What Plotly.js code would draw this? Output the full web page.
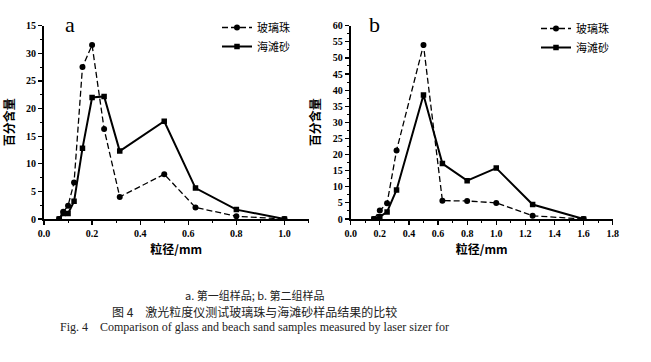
<!DOCTYPE html>
<html><head><meta charset="utf-8">
<script src="https://cdn.plot.ly/plotly-3.0.1.min.js"></script>
<style>html,body{margin:0;padding:0;background:#fff}#chart{width:651px;height:362px}</style>
</head><body><div id="chart"></div>
<script>
// Panel a
const xA = [0.063, 0.08, 0.1, 0.125, 0.16, 0.2, 0.25, 0.315, 0.5, 0.63, 0.8, 1.0];
const glassA = [0, 1.3, 2.4, 6.6, 27.5, 31.5, 16.3, 4.0, 8.1, 2.1, 0.5, 0];
const sandA  = [0, 1.0, 1.0, 3.2, 12.8, 22.0, 22.2, 12.3, 17.7, 5.6, 1.7, 0];
// Panel b
const xB = [0.16, 0.2, 0.25, 0.315, 0.5, 0.63, 0.8, 1.0, 1.25, 1.6];
const glassB = [0, 2.6, 4.9, 21.3, 54.0, 5.7, 5.6, 5.0, 1.0, 0];
const sandB  = [0, 0.7, 2.2, 9.0, 38.5, 17.2, 11.9, 15.8, 4.5, 0];
// Tick labels
const yTickValsA = [0, 5, 10, 15, 20, 25, 30, 35];
const yTickTextA = ['0', '5', '10', '15', '20', '25', '30', '15'];
const yTickValsB = [0, 5, 10, 15, 20, 25, 30, 35, 40, 45, 50, 55, 60];
const xTickValsA = [0, 0.2, 0.4, 0.6, 0.8, 1.0];
const xTickTextA = ['0.0', '0.2', '0.4', '0.6', '0.8', '1.0'];
const xTickValsB = [0, 0.2, 0.4, 0.6, 0.8, 1.0, 1.2, 1.4, 1.6, 1.8];
const xTickTextB = ['0.0', '0.2', '0.4', '0.6', '0.8', '1.0', '1.2', '1.4', '1.6', '1.8'];
const seriesNames = ['玻璃珠', '海滩砂'];

const W = 651, H = 362;
const px = x => x / W;
const py = y => (H - y) / H;

const CJK = '"Noto Sans CJK SC", sans-serif';
const SERIF = '"Liberation Serif", "DejaVu Serif", serif';

const glassStyle = {mode: 'lines+markers', line: {color: '#000', width: 1.3, dash: '6px,3px'},
  marker: {symbol: 'circle', size: 6, color: '#000'}};
const sandStyle = {mode: 'lines+markers', line: {color: '#000', width: 2},
  marker: {symbol: 'square', size: 5.5, color: '#000'}};

const data = [
  Object.assign({x: xA, y: glassA, name: seriesNames[0], xaxis: 'x', yaxis: 'y', legend: 'legend'}, glassStyle),
  Object.assign({x: xA, y: sandA, name: seriesNames[1], xaxis: 'x', yaxis: 'y', legend: 'legend'}, sandStyle),
  Object.assign({x: xB, y: glassB, name: seriesNames[0], xaxis: 'x2', yaxis: 'y2', legend: 'legend2'}, glassStyle),
  Object.assign({x: xB, y: sandB, name: seriesNames[1], xaxis: 'x2', yaxis: 'y2', legend: 'legend2'}, sandStyle)
];

const tickFont = {family: SERIF, size: 10, color: '#000', weight: 'bold'};
const titleFont = {family: CJK, size: 12, color: '#000', weight: 'bold'};

function xAxis(dom, range, tv, tt, anchor) {
  return {domain: dom, range: range, anchor: anchor, showline: true, linecolor: '#000', linewidth: 2,
    ticks: 'outside', ticklen: 4, tickwidth: 1.2, tickcolor: '#000', showgrid: false, zeroline: false,
    tickvals: tv, ticktext: tt, tickfont: tickFont,
    minor: {ticks: 'outside', ticklen: 2, tickwidth: 1, tickcolor: '#000', dtick: 0.1, showgrid: false},
    title: {text: '粒径/mm', font: titleFont, standoff: 8}};
}
function yAxis(dom, range, tv, tt, anchor, standoff) {
  return {domain: dom, range: range, anchor: anchor, showline: true, linecolor: '#000', linewidth: 2,
    ticks: 'outside', ticklen: 4, tickwidth: 1.2, tickcolor: '#000', showgrid: false, zeroline: false,
    tickvals: tv, ticktext: tt, tickfont: tickFont,
    minor: {ticks: 'outside', ticklen: 2, tickwidth: 1, tickcolor: '#000', dtick: 2.5, showgrid: false},
    title: {text: '百分含量', font: titleFont, standoff: standoff}};
}

function note(text, x, y, font) {
  return {text: text, x: px(x), y: py(y), xref: 'paper', yref: 'paper', showarrow: false,
    xanchor: 'center', yanchor: 'middle', font: font};
}

const yDom = [py(219), py(25.7)];
const layout = {
  width: W, height: H,
  margin: {l: 0, r: 0, t: 0, b: 0},
  paper_bgcolor: '#fff', plot_bgcolor: '#fff',
  showlegend: true,
  xaxis: xAxis([px(44), px(308.5)], [0, 1.1], xTickValsA, xTickTextA, 'y'),
  yaxis: yAxis(yDom, [0, 35], yTickValsA, yTickTextA, 'x', 12),
  xaxis2: xAxis([px(350.7), px(612.7)], [0, 1.8], xTickValsB, xTickTextB, 'y2'),
  yaxis2: yAxis(yDom, [0, 60], yTickValsB, null, 'x2', 9),
  legend: {x: px(217), y: py(13), xanchor: 'left', yanchor: 'top', bgcolor: 'rgba(0,0,0,0)',
    font: {family: CJK, size: 11, color: '#000'}, tracegroupgap: 0, itemwidth: 30},
  legend2: {x: px(536), y: py(14), xanchor: 'left', yanchor: 'top', bgcolor: 'rgba(0,0,0,0)',
    font: {family: CJK, size: 11, color: '#000'}, tracegroupgap: 0, itemwidth: 30},
  annotations: [
    note('a', 70, 25, {family: SERIF, size: 22, color: '#000'}),
    note('b', 374, 24, {family: SERIF, size: 22, color: '#000'}),
    note('a. 第一组样品; b. 第二组样品', 254, 295, {family: CJK, size: 11, color: '#222'}),
    note('图 4　激光粒度仪测试玻璃珠与海滩砂样品结果的比较', 254, 311, {family: CJK, size: 12, color: '#222'}),
    note('Fig. 4    Comparison of glass and beach sand samples measured by laser sizer for', 254, 327,
      {family: SERIF, size: 12, color: '#222'})
  ]
};

Plotly.newPlot('chart', data, layout, {staticPlot: true, displayModeBar: false});
</script>
</body></html>
